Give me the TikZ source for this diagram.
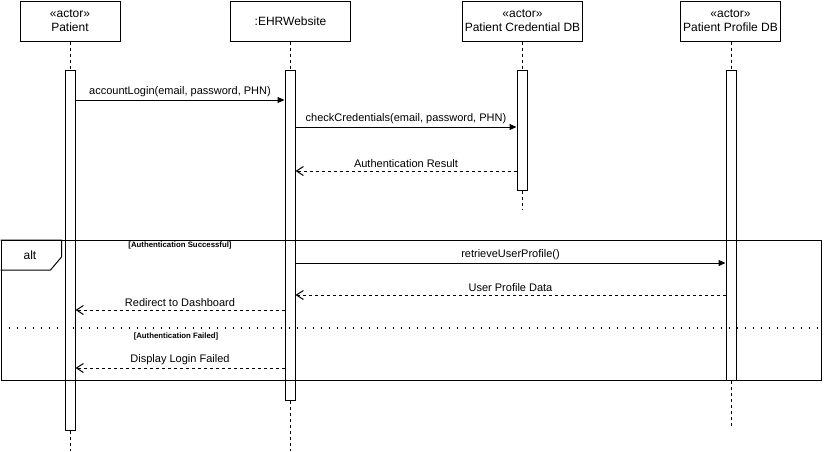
\documentclass[tikz,border=0pt]{standalone}
\usepackage{fontspec}
\setmainfont{Liberation Sans}
\usetikzlibrary{arrows.meta,calc}
\begin{document}
\begin{tikzpicture}[x=1pt,y=-1pt,
  line width=1pt,
  head/.style={draw, minimum width=#1, minimum height=40pt, inner sep=0pt, align=center, anchor=north, font=\fontsize{12}{14}\selectfont},
  bar/.style={draw, fill=white, minimum width=10pt, minimum height=#1, inner sep=0pt, anchor=north},
  life/.style={dash pattern=on 3pt off 3pt},
  msg/.style={-{Triangle[length=7pt,width=6pt]}},
  ret/.style={dash pattern=on 3pt off 3pt, -{Straight Barb[length=7pt,width=9pt]}},
  lbl/.style={font=\fontsize{11}{13}\selectfont, above, inner sep=3pt},
  guard/.style={font=\fontsize{7.8}{9}\selectfont\bfseries, inner sep=0pt},
]
\useasboundingbox (0,0) rectangle (824,451);

% heads
\node[head=100pt] (hp) at (70,0.5) {«actor»\\Patient};
\node[head=120pt] (he) at (290.5,0.5) {:EHRWebsite};
\node[head=120pt] (hc) at (522.5,0.5) {«actor»\\Patient Credential DB};
\node[head=100pt] (hf) at (730.5,0.5) {«actor»\\Patient Profile DB};

% end points of lifelines
\coordinate (ep) at (70,451);
\coordinate (ee) at (290,451);
\coordinate (ec) at (522,210);
\coordinate (ef) at (731,427);

% bars
\node[bar=360pt] (bp) at (70,70) {};
\node[bar=330pt] (be) at (290,70) {};
\node[bar=120pt] (bc) at (522,70) {};
\node[bar=310pt] (bf) at (731,70) {};

% lifelines
\draw[life] (hp.south -| bp.north) -- (bp.north);
\draw[life] (bp.south) -- (ep);
\draw[life] (he.south -| be.north) -- (be.north);
\draw[life] (be.south) -- (ee);
\draw[life] (hc.south -| bc.north) -- (bc.north);
\draw[life] (bc.south) -- (ec);
\draw[life] (hf.south -| bf.north) -- (bf.north);
\draw[life] (bf.south) -- (ef);

% alt frame (drawn over the bars)
\node[draw, minimum width=820pt, minimum height=140pt, inner sep=0pt, anchor=north west] (alt) at (0.5,240) {};
\draw (alt.north west) -- ++(61,0) -- ++(0,17) -- ++(-11,13) -- ++(-50,0);
\node[font=\fontsize{12}{14}\selectfont, inner sep=0pt] (altl) at (30,255) {alt};

% guards
\node[guard] (g1) at (180,245.5) {[Authentication Successful]};
\node[guard] (g2) at (176,336.5) {[Authentication Failed]};

% separator
\coordinate (sepr) at (824,328);
\draw[line width=1.5pt, dash pattern=on 1.5pt off 6.5pt] (alt.west |- sepr) -- (sepr);

% messages
\draw[msg] (bp.east |- 0,100) -- node[lbl] {accountLogin(email, password, PHN)} (be.west |- 0,100);
\draw[msg] (be.east |- 0,127) -- node[lbl] {checkCredentials(email, password, PHN)} (bc.west |- 0,127);
\draw[ret] (bc.west |- 0,171) -- node[lbl] {Authentication Result} (be.east |- 0,171);
\draw[msg] (be.east |- 0,263) -- node[lbl] {retrieveUserProfile()} (bf.west |- 0,263);
\draw[ret] (bf.west |- 0,295) -- node[lbl] {User Profile Data} (be.east |- 0,295);
\draw[ret] (be.west |- 0,310) -- node[lbl] {Redirect to Dashboard} (bp.east |- 0,310);
\draw[ret] (be.west |- 0,368) -- node[lbl] {Display Login Failed} (bp.east |- 0,368);
\end{tikzpicture}
\end{document}
